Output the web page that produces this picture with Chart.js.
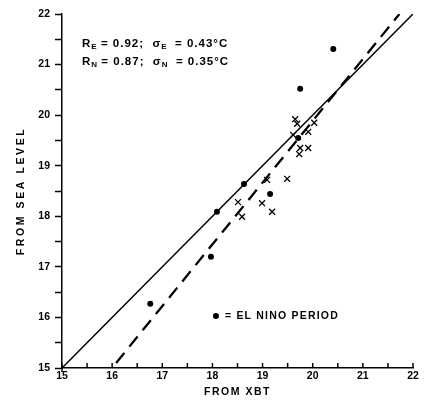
<!DOCTYPE html>
<html>
<head>
<meta charset="utf-8">
<script src="https://cdn.jsdelivr.net/npm/chart.js@4/dist/chart.umd.min.js"></script>
<style>
html,body{margin:0;padding:0;background:#fff;}
#wrap{width:431px;height:415px;}
</style>
</head>
<body>
<div id="wrap"><canvas id="c" width="431" height="415"></canvas></div>
<script>
// ---- data ----
const elNinoX = [16.76, 17.97, 18.09, 18.63, 19.15, 19.71, 19.75, 20.41];
const elNinoY = [16.27, 17.20, 18.09, 18.64, 18.44, 19.55, 20.52, 21.31];
const normalX = [19.65, 19.69, 20.03, 19.61, 19.91, 19.75, 19.73, 19.91, 19.09, 19.49, 18.51, 18.99, 19.19, 18.59];
const normalY = [19.92, 19.83, 19.85, 19.61, 19.67, 19.35, 19.23, 19.35, 18.72, 18.74, 18.28, 18.26, 18.09, 17.99];
const solidLineX = [15, 22];
const solidLineY = [15, 22];
const dashedLineX = [16.08, 21.73];
const dashedLineY = [15.1, 22];
const xTickLabels = ['15','16','17','18','19','20','21','22'];
const yTickLabels = ['15','16','17','18','19','20','21','22'];
const xTitle = 'FROM XBT';
const yTitle = 'FROM SEA LEVEL';
const statLine1 = [['R'],['E',1],[' = 0.92;  '],['σ'],['E',1],['  = 0.43°C']];
const statLine2 = [['R'],['N',1],[' = 0.87;  '],['σ'],['N',1],['  = 0.35°C']];
const legendText = '= EL NINO PERIOD';

const toPts = (xs, ys) => xs.map((x, i) => ({x: x, y: ys[i]}));
const FONT = '"Liberation Sans", "DejaVu Sans", sans-serif';

const overlay = {
  id: 'overlay',
  afterDraw(chart) {
    const ctx = chart.ctx;
    const xs = chart.scales.x, ys = chart.scales.y;
    const ca = chart.chartArea;
    ctx.save();
    // inward tick marks on x axis
    ctx.strokeStyle = '#000';
    ctx.lineWidth = 1.5;
    const yb = ys.getPixelForValue(15);
    for (let v = 15; v <= 22.001; v += 0.5) {
      const px = xs.getPixelForValue(v);
      ctx.beginPath();
      ctx.moveTo(px, yb + (v === 15 ? 4 : 0));
      ctx.lineTo(px, yb - 5);
      ctx.stroke();
    }
    ctx.fillStyle = '#000';
    ctx.textBaseline = 'middle';
    ctx.textAlign = 'left';
    // stats text
    const drawRich = (segs, x, y) => {
      let cx = x;
      segs.forEach(s => {
        const sub = s[1];
        ctx.font = (sub ? 'bold 8px ' : 'bold 11.5px ') + FONT;
        ctx.letterSpacing = sub ? '0px' : '1px';
        ctx.fillText(s[0], cx, sub ? y + 3 : y);
        cx += ctx.measureText(s[0]).width;
      });
    };
    drawRich(statLine1, xs.getPixelForValue(15.4), ys.getPixelForValue(21.41));
    drawRich(statLine2, xs.getPixelForValue(15.4), ys.getPixelForValue(21.05));
    // legend
    const lx = xs.getPixelForValue(18.07), ly = ys.getPixelForValue(16.03);
    ctx.beginPath();
    ctx.arc(lx, ly, 3, 0, Math.PI * 2);
    ctx.fill();
    ctx.font = 'bold 10.5px ' + FONT;
    ctx.letterSpacing = '1.2px';
    ctx.fillText(legendText, lx + 9, ly + 0.5);
    // axis titles
    ctx.font = 'bold 10.5px ' + FONT;
    ctx.letterSpacing = '1.5px';
    ctx.textAlign = 'center';
    ctx.fillText(xTitle, (ca.left + ca.right) / 2, 392);
    ctx.save();
    ctx.translate(21, (ca.top + ca.bottom) / 2);
    ctx.rotate(-Math.PI / 2);
    ctx.letterSpacing = '2.6px';
    ctx.fillText(yTitle, 0, 0);
    ctx.restore();
    ctx.restore();
  }
};

new Chart(document.getElementById('c'), {
  type: 'scatter',
  data: {
    datasets: [
      { type: 'line', data: toPts(solidLineX, solidLineY), borderColor: '#000', borderWidth: 1.5,
        pointRadius: 0, fill: false, tension: 0 },
      { type: 'line', data: toPts(dashedLineX, dashedLineY), borderColor: '#000', borderWidth: 2.3,
        borderDash: [13, 8], pointRadius: 0, fill: false, tension: 0 },
      { data: toPts(elNinoX, elNinoY), pointStyle: 'circle', pointRadius: 3,
        backgroundColor: '#000', borderColor: '#000', borderWidth: 0 },
      { data: toPts(normalX, normalY), pointStyle: 'crossRot', pointRadius: 4.2,
        borderColor: '#000', borderWidth: 1.3 }
    ]
  },
  options: {
    responsive: false,
    animation: false,
    devicePixelRatio: 1,
    layout: { padding: { top: 14, right: 18, left: 0, bottom: 0 } },
    plugins: { legend: { display: false }, tooltip: { enabled: false } },
    scales: {
      x: {
        type: 'linear', min: 15, max: 22,
        afterFit(scale) { scale.height = 47; },
        border: { display: true, color: '#000', width: 1.5 },
        grid: { display: true, drawOnChartArea: false, drawTicks: false },
        ticks: {
          stepSize: 1, padding: 2, color: '#000',
          font: { family: FONT, size: 10.5, weight: 'bold' },
          callback: (v) => xTickLabels[Math.round(v) - 15]
        },
        title: { display: false }
      },
      y: {
        type: 'linear', min: 15, max: 22,
        afterFit(scale) { scale.width = 62; },
        border: { display: true, color: '#000', width: 1.5 },
        grid: { display: true, drawOnChartArea: false, drawTicks: true, tickLength: 7, tickWidth: 1.5, tickColor: '#000' },
        ticks: {
          stepSize: 0.5, padding: 5, color: '#000', autoSkip: false,
          font: { family: FONT, size: 10.5, weight: 'bold' },
          callback: (v) => Number.isInteger(v) ? yTickLabels[v - 15] : ''
        },
        title: { display: false }
      }
    }
  },
  plugins: [overlay]
});
</script>
</body>
</html>
